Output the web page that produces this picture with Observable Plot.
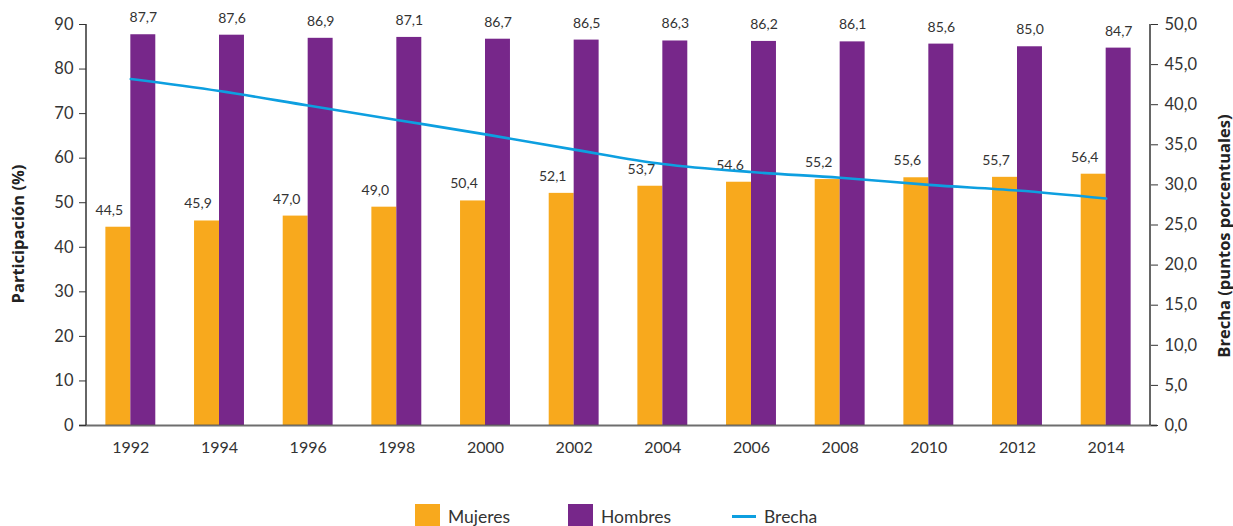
<!DOCTYPE html>
<html>
<head>
<meta charset="utf-8">
<script src="https://cdn.jsdelivr.net/npm/d3@7"></script>
<script src="https://cdn.jsdelivr.net/npm/@observablehq/plot@0.6"></script>
<style>
  html, body { margin: 0; padding: 0; background: #fff; }
  body { width: 1233px; height: 526px; overflow: hidden; position: relative; font-family: Lato, "Open Sans", sans-serif; }
  #chart svg { display: block; }
  .legend { position: absolute; left: 0; top: 504px; width: 1233px; height: 30px; color: #333; font-size: 17.5px; }
  .item { position: absolute; top: 0; display: flex; align-items: center; gap: 8px; height: 25px; }
  .sw { width: 25px; height: 25px; display: inline-block; }
  .ln { width: 24px; height: 3px; display: inline-block; }
</style>
</head>
<body>
<div id="chart"></div>
<div class="legend">
  <div class="item" style="left:415px"><span class="sw" style="background:#F8A91D"></span><span>Mujeres</span></div>
  <div class="item" style="left:568px"><span class="sw" style="background:#77278A"></span><span>Hombres</span></div>
  <div class="item" style="left:732px"><span class="ln" style="background:#0D9FE0"></span><span>Brecha</span></div>
</div>
<script>
const years = ["1992","1994","1996","1998","2000","2002","2004","2006","2008","2010","2012","2014"];
const mujeres = [44.5, 45.9, 47.0, 49.0, 50.4, 52.1, 53.7, 54.6, 55.2, 55.6, 55.7, 56.4];
const hombres = [87.7, 87.6, 86.9, 87.1, 86.7, 86.5, 86.3, 86.2, 86.1, 85.6, 85.0, 84.7];
const brecha  = [43.2, 41.7, 39.9, 38.1, 36.3, 34.4, 32.6, 31.6, 30.9, 30.0, 29.3, 28.3];
const leftTicks = [0, 10, 20, 30, 40, 50, 60, 70, 80, 90];
const rightTicks = [0, 5, 10, 15, 20, 25, 30, 35, 40, 45, 50];

const W = 1233, H = 470, ML = 86, MR = 83, MT = 24, MB = 45;
const n = years.length, pIn = 0.437, pOut = 0.2185;
const step = (W - ML - MR) / (n - pIn + 2 * pOut);
const bw = step * (1 - pIn);
const k = 90 / 50;
const fmt = v => v.toFixed(1).replace(".", ",");
const data = years.map((y, i) => ({year: y, m: mujeres[i], h: hombres[i], b: brecha[i]}));

const chart = Plot.plot({
  width: W, height: H,
  marginLeft: ML, marginRight: MR, marginTop: MT, marginBottom: MB,
  style: {fontFamily: "Lato, 'Open Sans', sans-serif", color: "#333", background: "#fff", overflow: "visible"},
  x: {type: "band", domain: years, paddingInner: pIn, paddingOuter: pOut, round: false, axis: null, label: null},
  y: {domain: [0, 90], axis: null, label: null},
  marks: [
    Plot.barY(data, {x: "year", y: "m", fill: "#F8A91D", insetRight: bw / 2}),
    Plot.barY(data, {x: "year", y: "h", fill: "#77278A", insetLeft: bw / 2}),
    Plot.ruleY([0], {stroke: "#555", strokeOpacity: 0.85, strokeWidth: 2, insetLeft: -7, insetRight: -7}),
    Plot.axisX({tickSize: 0, tickPadding: 16, fontSize: 16, label: null}),
    Plot.axisY({anchor: "left", ticks: leftTicks, tickSize: 7, tickPadding: 6, fontSize: 16.5, label: null, stroke: "#333"}),
    Plot.axisY({anchor: "right", ticks: rightTicks.map(v => v * k), tickFormat: d => fmt(d / k), tickSize: 7, tickPadding: 7, fontSize: 16.5, label: null, stroke: "#333"}),
    Plot.text(data, {x: "year", y: "m", text: d => fmt(d.m), dx: -21.5, dy: -17, fontSize: 14, fill: "#333"}),
    Plot.text(data, {x: "year", y: "h", text: d => fmt(d.h), dx: 12.5, dy: -17, fontSize: 14, fill: "#333"}),
    Plot.lineY(data, {x: "year", y: d => d.b * k, stroke: "#0D9FE0", strokeWidth: 2.6, curve: "monotone-x"})
  ]
});

const ys = chart.scale("y").range;
const svg = d3.select(chart);
[ML, W - MR].forEach(x => {
  svg.append("line").attr("x1", x).attr("x2", x).attr("y1", Math.min(...ys)).attr("y2", Math.max(...ys))
    .attr("stroke", "#333").attr("stroke-width", 1.5);
});
const titles = [
  {text: "Participación (%)", x: 18, y: 234, size: 16.5},
  {text: "Brecha (puntos porcentuales)", x: 1224, y: 236, size: 16.5}
];
titles.forEach(t => {
  svg.append("text")
    .attr("transform", `translate(${t.x},${t.y}) rotate(-90)`)
    .attr("text-anchor", "middle").attr("dy", "0.35em")
    .attr("font-family", "'Open Sans', Lato, sans-serif")
    .attr("font-weight", "bold").attr("font-size", t.size).attr("fill", "#222")
    .text(t.text);
});
document.getElementById("chart").appendChild(chart);
</script>
</body>
</html>
